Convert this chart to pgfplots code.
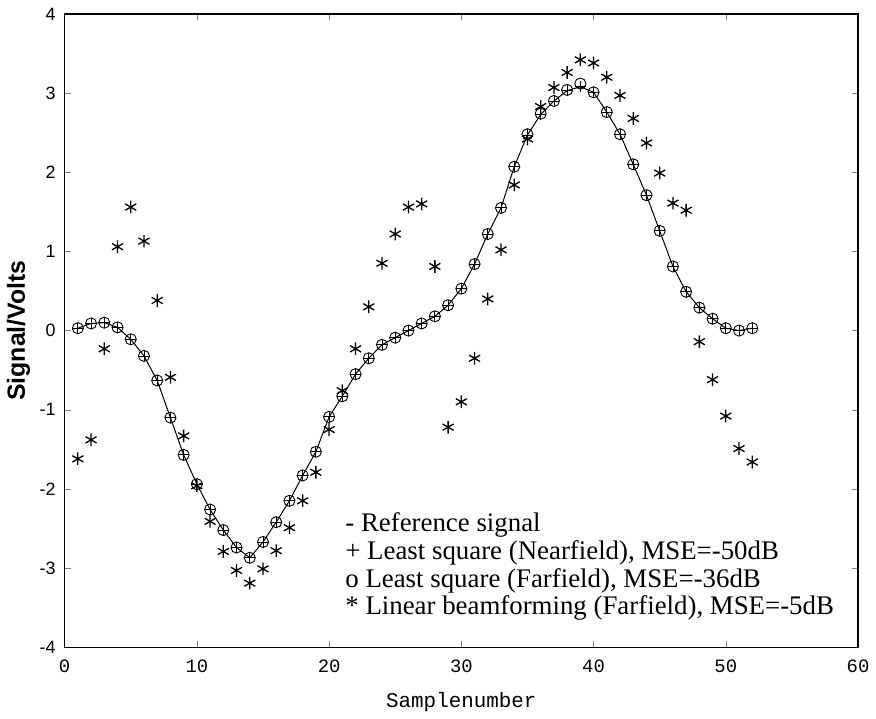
\documentclass[border=0pt]{standalone}
\usepackage{fontspec}
\setmainfont{Liberation Serif}
\newfontfamily\tickmono{Liberation Mono}
\newfontfamily\ticksans{Liberation Sans}
\usepackage{pgfplots}
\usepackage{pgfplotstable}
\pgfplotsset{compat=1.18}

% n, reference, LS nearfield, LS farfield, linear beamforming
\pgfplotstableread{
n  ref    near   far    lin
1  0.03   0.03   0.03  -1.62
2  0.09   0.09   0.09  -1.38
3  0.10   0.10   0.10  -0.23
4  0.04   0.04   0.04   1.06
5  -0.11  -0.11  -0.11  1.56
6  -0.32  -0.32  -0.32  1.13
7  -0.63  -0.63  -0.63  0.38
8  -1.10  -1.10  -1.10 -0.59
9  -1.57  -1.57  -1.57 -1.33
10 -1.94  -1.94  -1.94 -1.96
11 -2.26  -2.26  -2.26 -2.41
12 -2.52  -2.52  -2.52 -2.79
13 -2.74  -2.74  -2.74 -3.03
14 -2.87  -2.87  -2.87 -3.19
15 -2.67  -2.67  -2.67 -3.01
16 -2.42  -2.42  -2.42 -2.78
17 -2.15  -2.15  -2.15 -2.49
18 -1.83  -1.83  -1.83 -2.15
19 -1.53  -1.53  -1.53 -1.79
20 -1.09  -1.09  -1.09 -1.25
21 -0.83  -0.83  -0.83 -0.76
22 -0.55  -0.55  -0.55 -0.23
23 -0.35  -0.35  -0.35  0.30
24 -0.18  -0.18  -0.18  0.85
25 -0.09  -0.09  -0.09  1.22
26  0.00   0.00   0.00  1.56
27  0.09   0.09   0.09  1.60
28  0.18   0.18   0.18  0.81
29  0.32   0.32   0.32 -1.22
30  0.53   0.53   0.53 -0.90
31  0.84   0.84   0.84 -0.35
32  1.22   1.22   1.22  0.40
33  1.55   1.55   1.55  1.02
34  2.07   2.07   2.07  1.84
35  2.47   2.47   2.48  2.42
36  2.73   2.73   2.74  2.83
37  2.90   2.90   2.90  3.07
38  3.03   3.03   3.04  3.26
39  3.08   3.08   3.12  3.42
40  3.01   3.01   3.01  3.38
41  2.76   2.76   2.76  3.20
42  2.48   2.48   2.48  2.97
43  2.10   2.10   2.10  2.68
44  1.71   1.71   1.71  2.37
45  1.26   1.26   1.26  1.99
46  0.81   0.81   0.81  1.61
47  0.49   0.49   0.49  1.52
48  0.29   0.29   0.29 -0.14
49  0.15   0.15   0.15 -0.62
50  0.03   0.03   0.03 -1.08
51  0.00   0.00   0.00 -1.49
52  0.03   0.03   0.03 -1.66
}\datatable

\begin{document}
\begin{tikzpicture}
\begin{axis}[
    name=ax,
    scale only axis,
    width=399pt, height=318.5pt,
    xmin=0, xmax=60, ymin=-4, ymax=4,
    xtick={0,10,...,60}, ytick={-4,-3,...,4},
    tick align=inside,
    major tick length=3pt,
    axis line style={line width=0.6pt},
    /pgf/number format/assume math mode=true,
    xticklabel style={font=\tickmono\fontsize{9.5}{10}\selectfont, yshift=-3pt},
    yticklabel style={font=\ticksans\fontsize{9}{10}\selectfont, xshift=-1pt},
    xlabel={Samplenumber},
    ylabel={Signal/Volts},
    xlabel style={font=\tickmono\fontsize{10.5}{11}\selectfont, yshift=-3pt},
    ylabel style={font=\ticksans\bfseries\fontsize{12.5}{13}\selectfont, yshift=-2pt},
    clip=false,
]
\addplot[black, line width=0.5pt, no markers] table[x=n, y=ref] {\datatable};
\addplot[black, only marks, mark=+, mark size=2.8pt, line width=0.4pt] table[x=n, y=near] {\datatable};
\addplot[black, only marks, mark=o, mark size=2.8pt, line width=0.45pt] table[x=n, y=far] {\datatable};
\addplot[black, only marks, mark=asterisk, mark size=3.2pt, line width=0.65pt] table[x=n, y=lin] {\datatable};

\node[anchor=north west, inner sep=0pt, align=left,
      font=\fontsize{13.5}{13.9}\selectfont] at (axis cs:21.2,-2.3)
  {- Reference signal\\
   + Least square (Nearfield), MSE=-50dB\\
   o Least square (Farfield), MSE=-36dB\\
   * Linear beamforming (Farfield), MSE=-5dB};
\end{axis}
\path ([shift={(-32.5pt,-30pt)}]ax.south west) rectangle ([shift={(6.5pt,7pt)}]ax.north east);
\end{tikzpicture}
\end{document}
